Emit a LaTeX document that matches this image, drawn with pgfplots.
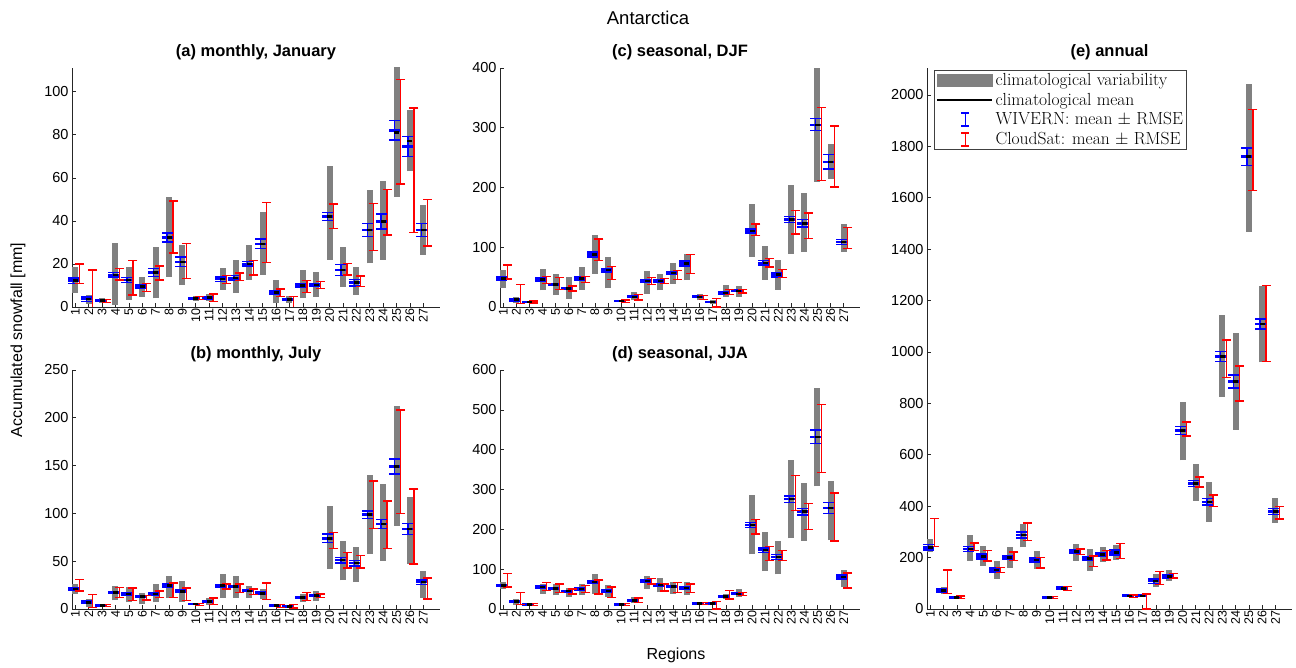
\documentclass[border=0pt]{standalone}
\usepackage{fontspec}
\setsansfont{Liberation Sans}
\usepackage{pgfplots}
\usepackage{pgfplotstable}
\pgfplotsset{compat=1.18}
\definecolor{graybar}{RGB}{128,128,128}
\definecolor{wblue}{RGB}{0,0,255}
\definecolor{cred}{RGB}{255,0,0}

% x glo ghi gm bm be rlo rhi
\pgfplotstableread{
x glo ghi gm bm be rlo rhi
1 6.4 18.8 12.2 12.2 1.2 11 20
2 1.5 5.5 3.6 3.6 1.0 -10 17.2
3 2 4 3 3 0.5 2 3.6
4 1 29.6 14.9 14.9 1.0 12.6 17.8
5 3.3 18.8 12.6 12.6 1.2 5.6 21.5
6 4.8 14 9.5 9.5 1.0 7.1 11
7 4 28 16 16 1.8 12.6 19
8 14 51.3 32.2 32.2 2.1 25 49.3
9 10.2 28.8 21 21 2.3 13.3 29.6
10 3 5 4 4 0.5 3.4 4.9
11 3 6 4.3 4.3 0.6 2.5 6
12 7.9 18 12.9 12.9 1.0 11 14.7
13 6.4 21.9 13.5 13.5 1.0 12.2 15.7
14 12.6 28.8 20 20 1.0 14.9 21.5
15 14.9 44.3 29.3 29.3 2.2 20.6 48.5
16 1.7 12.6 6.8 6.8 0.8 5 8.4
17 2 5 3.5 3.5 0.5 -1 5
18 4 17.2 9.9 9.9 0.8 6.6 12.2
19 4.8 16.3 10.2 10.2 0.8 8.6 11.7
20 21.9 65.6 42 42 1.9 36.4 47.9
21 9.5 28 17.2 17.2 2.5 14.9 20.3
22 5.6 18.8 11.3 11.3 1.5 9.5 14.4
23 20.3 54.4 35.8 35.8 3.1 26.2 48.2
24 21.9 58.3 39.7 39.7 3.5 33.5 54.7
25 51.3 112 81 82 4.5 57.2 105.6
26 63 91.6 77 74.6 4.7 34.6 92.4
27 24.2 47.4 35.8 35.8 3 28.4 49.8
}\tabA

\pgfplotstableread{
x glo ghi gm bm be rlo rhi
1 16 26 21 21 1.2 19 31
2 2 10 7 7 1.2 1.7 15
3 2.5 4.5 3.5 3.5 0.6 2.4 4.5
4 9 24 17.4 17.4 1.2 12 22.7
5 7 22.7 15.7 15.7 1.2 8.7 22
6 5 17 13 13 1.0 9.4 14
7 7 26 15.7 15.7 1.2 12 19
8 12 35 24.4 24.4 2 12 27
9 7 29 18.5 18.5 1.5 8.7 22
10 4 6.5 5.2 5.2 0.6 3.5 6
11 4 11 8 8 1 4.5 11.5
12 12 36.6 24.4 24.4 1.5 21 26
13 12 34 23.4 23.4 1.2 17.4 26
14 12 24 19 19 1 15 21
15 10 21 16.4 16.4 1.2 10 27
16 2 5 3.5 3.5 0.5 1.7 4.5
17 1.5 4 2.8 2.8 0.5 1 5
18 7 16 12 12 1 8.7 17
19 8 19 14 14 1 12 15.7
20 42 108 74 74 4.5 63 80
21 30 71.5 51 51 3 43 59
22 28 65 48 48 3 43 56
23 58 140.5 98.7 98.7 4 84 134
24 50.6 131 89 89 4.5 63 113
25 87 212.7 149 149 8 100 208
26 47 117 83.7 83.7 6 47 125.5
27 12 40 28 28 2.5 10.5 32.4
}\tabB

\pgfplotstableread{
x glo ghi gm bm be rlo rhi
1 31 62 47.5 47.5 3 47 70
2 6 17 12.3 12.3 2 5.6 37.5
3 7 10 8.4 8.4 1 7 10
4 28 64 46 46 2.5 39 51
5 20 56 37.5 37.5 2 29 49
6 14 50 30.8 30.8 2 27 35
7 28 67 47.5 47.5 2.5 41 51
8 56 120 88 88 4 78 114
9 31 84 61.5 61.5 3 46 68
10 8 12 10 10 1 8 12
11 11 25 17 17 1.5 12 21
12 22 60 43.6 43.6 2 38 49
13 28 56 43.6 43.6 2 39 47.5
14 39 73 57 57 2.5 46 61.5
15 45 89 72.7 72.7 4 56 88
16 11 22 17 17 1.5 12.3 19.6
17 5 12 8.4 8.4 1 0 14
18 17 36 23.5 23.5 2 21 29
19 17 35 27 27 1.5 23.5 29
20 84 173 127 127 3.5 120 139
21 46 102 74 74 4 67 81
22 29 79 54 54 3.5 49 63
23 89 204 146.5 146.5 5 122 161
24 92 190 140 140 6 115 157
25 210 400 305 305 10 212 334
26 215 272 243 243 12 201 303
27 92 139 109 109 4 98 133
}\tabC

\pgfplotstableread{
x glo ghi gm bm be rlo rhi
1 50 67 59 59 3 55 88.5
2 11 25 19.4 19.4 2.5 11 42
3 8.4 14 11 11 1 8.4 14
4 38 63 55 55 2.5 46 67
5 34 61.5 52 52 2.5 42 63
6 29.5 53 44.7 44.7 2 38 50.6
7 34 63 50.6 50.6 2.5 42 59
8 38 88.5 67.4 67.4 4 38 73
9 29.5 59 44.7 44.7 3 29.5 55
10 8 14 11 11 1 8.4 14
11 14 29.5 21 21 1.5 17 28
12 50.6 84 70 70 3 63 76
13 42 78 60.7 60.7 3 44.7 63
14 38 67 56.5 56.5 3 42 67
15 34 67 53 53 3 42 63
16 11 17 14.3 14.3 1 11 17
17 10 17 14.3 14.3 1 0 19.4
18 25 38 31 31 2 25 46
19 29.5 50.6 38 38 2 34 42
20 137 286.6 210.7 210.7 6 188 225
21 95 194 147.5 147.5 6 122 157.6
22 87 171 130.6 130.6 6 122 147.5
23 177 375 275.6 275.6 8 247 335
24 171 316 244.4 244.4 8 200 265.5
25 307.6 556 432.4 432.4 17 343 514
26 173 322 253 253 14 171 291
27 55 97 80 80 5 53 90
}\tabD

\pgfplotstableread{
x glo ghi gm bm be rlo rhi
1 221 273 240 240 10 243 351
2 58 84 71.4 71.4 8 61 152
3 40 50 45 45 4 41.6 51
4 188 286 234 234 10 227 256
5 169 247 204 204 10 186 227
6 117 188 152 152 8 143 162
7 160 240 201 201 8 188 221
8 240 331 288 288 12 266 334
9 156 227 191 191 8 160 201
10 40 50 45 45 3 41.6 49
11 72 88 80.5 80.5 5 71 87
12 188 253 223 223 8 212 234
13 149 234 197 197 8 165 206
14 182 242 212 212 8 190 227
15 190 250 220 220 10 197 254
16 46 56 51 51 3 45 55
17 46 56 51 51 3 0 58
18 85 137 108 108 8 96 145
19 108 152 126 126 8 120 137
20 578 807 694 694 15 673 728
21 421 563 489 489 12 474 514
22 339 496 417 417 12 399 444
23 825 1142 982 982 20 900 1046
24 698 1072 885 885 25 810 945
25 1468 2043 1760 1760 34 1628 1943
26 960 1258 1109 1109 20 963 1258
27 335 433 380 380 12 350 399
}\tabE

\pgfplotsset{
  panel/.style={
    scale only axis,
    axis lines=left,
    axis line style={-, black!85, line width=0.6pt},
    tick align=inside,
    major tick length=4pt,
    tick style={black!85, line width=0.6pt},
    xmin=0.75, xmax=28.25, ymin=0,
    xtick={1,...,27},
    /pgf/number format/assume math mode=true,
    /pgf/number format/1000 sep={},
    xticklabel style={rotate=90, anchor=east, font=\fontsize{12.5}{13}\sffamily, inner sep=1.5pt},
    yticklabel style={font=\fontsize{14.5}{15}\sffamily},
    title style={font=\fontsize{16.5}{18}\sffamily\bfseries, yshift=-1pt},
    clip=true,
  },
}

\newcommand{\drawpanel}[1]{%
  % climatological variability (gray range)
  \addplot[graybar, line width=6pt, mark=none, quiver={u=0, v=\thisrow{ghi}-\thisrow{glo}}]
    table[x=x, y=glo] {#1};
  % WIVERN mean +- RMSE
  \addplot[wblue, line width=1.4pt, mark=none, quiver={u=0, v=2*\thisrow{be}}]
    table[x expr=\thisrow{x}-0.15, y expr=\thisrow{bm}-\thisrow{be}] {#1};
  \addplot[wblue, only marks, mark=-, mark size=5.5pt, mark options={line width=1.4pt, wblue}]
    table[x expr=\thisrow{x}-0.15, y expr=\thisrow{bm}-\thisrow{be}] {#1};
  \addplot[wblue, only marks, mark=-, mark size=5.5pt, mark options={line width=1.4pt, wblue}]
    table[x expr=\thisrow{x}-0.15, y expr=\thisrow{bm}+\thisrow{be}] {#1};
  \addplot[wblue, only marks, mark=-, mark size=5.5pt, mark options={line width=2.5pt, wblue}]
    table[x expr=\thisrow{x}-0.15, y=bm] {#1};
  % CloudSat mean +- RMSE
  \addplot[cred, line width=1.4pt, mark=none, quiver={u=0, v=\thisrow{rhi}-\thisrow{rlo}}]
    table[x expr=\thisrow{x}+0.3, y=rlo] {#1};
  \addplot[cred, only marks, mark=-, mark size=4.5pt, mark options={line width=1.4pt, cred}]
    table[x expr=\thisrow{x}+0.3, y=rlo] {#1};
  \addplot[cred, only marks, mark=-, mark size=4.5pt, mark options={line width=1.4pt, cred}]
    table[x expr=\thisrow{x}+0.3, y=rhi] {#1};
  % climatological mean
  \addplot[black, only marks, mark=-, mark size=2.5pt, mark options={line width=2.5pt, black}]
    table[x=x, y=gm] {#1};
}

\begin{document}
\begin{tikzpicture}
\useasboundingbox (0pt,0pt) rectangle (1296pt,668pt);

\begin{axis}[panel, at={(72pt,361pt)}, anchor=south west, width=368pt, height=239pt,
  ymax=111, ytick={0,20,...,100}, title={(a) monthly, January}]
\drawpanel{\tabA}
\end{axis}

\begin{axis}[panel, at={(72pt,59pt)}, anchor=south west, width=368pt, height=239pt,
  ymax=250, ytick={0,50,...,250}, title={(b) monthly, July}]
\drawpanel{\tabB}
\end{axis}

\begin{axis}[panel, at={(500pt,361pt)}, anchor=south west, width=360pt, height=239pt,
  ymax=400, ytick={0,100,...,400}, title={(c) seasonal, DJF}]
\drawpanel{\tabC}
\end{axis}

\begin{axis}[panel, at={(500pt,59pt)}, anchor=south west, width=360pt, height=239pt,
  ymax=600, ytick={0,100,...,600}, title={(d) seasonal, JJA}]
\drawpanel{\tabD}
\end{axis}

\begin{axis}[panel, at={(927pt,59pt)}, anchor=south west, width=365pt, height=541pt,
  ymax=2105, ytick={0,200,...,2000}, title={(e) annual},
  legend style={at={(axis description cs:0.02,0.997)}, anchor=north west,
    font=\rmfamily\fontsize{17.5}{19}\selectfont, draw=black!75, line width=0.6pt,
    inner sep=1.5pt, row sep=2pt, cells={anchor=west}},
  legend cell align=left]
\addlegendimage{legend image code/.code={\fill[graybar] (0pt,-6pt) rectangle (55pt,6pt);}}
\addlegendentry{climatological variability}
\addlegendimage{legend image code/.code={\draw[black, line width=2.5pt] (0pt,0pt) -- (55pt,0pt);}}
\addlegendentry{climatological mean}
\addlegendimage{legend image code/.code={\draw[wblue, line width=1.4pt] (28pt,-6.5pt) -- (28pt,6.5pt) (24pt,-6.5pt) -- (32pt,-6.5pt) (24pt,6.5pt) -- (32pt,6.5pt);}}
\addlegendentry{WIVERN: mean $\pm$ RMSE}
\addlegendimage{legend image code/.code={\draw[cred, line width=1.4pt] (28pt,-6.5pt) -- (28pt,6.5pt) (24pt,-6.5pt) -- (32pt,-6.5pt) (24pt,6.5pt) -- (32pt,6.5pt);}}
\addlegendentry{CloudSat: mean $\pm$ RMSE}
\drawpanel{\tabE}
\end{axis}

\node[font=\fontsize{18.5}{20}\sffamily] at (648pt,650pt) {Antarctica};
\node[font=\fontsize{16}{18}\sffamily, rotate=90] at (18pt,328pt) {Accumulated snowfall [mm]};
\node[font=\fontsize{16}{18}\sffamily] at (676pt,13pt) {Regions};
\end{tikzpicture}
\end{document}
